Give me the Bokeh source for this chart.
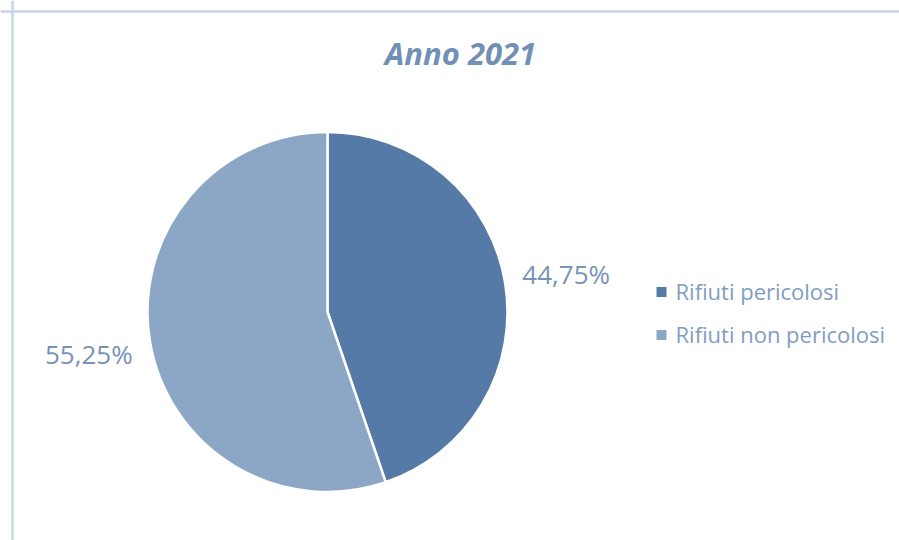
import numpy as np
from bokeh.plotting import figure
from bokeh.models import ColumnDataSource, Range1d, Span
from bokeh.core.properties import value
from bokeh.embed import file_html
from bokeh.resources import INLINE

# ---- data ----
title = "Anno 2021"
categories = ["Rifiuti pericolosi", "Rifiuti non pericolosi"]
shares = [44.75, 55.25]
labels = ["44,75%", "55,25%"]
colors = ["#557AA7", "#8CA7C6"]

W, H = 899, 540
p = figure(width=W, height=H, output_backend="svg", toolbar_location=None,
           x_range=Range1d(0, W), y_range=Range1d(0, H), min_border=0,
           outline_line_color=None, background_fill_color="white",
           border_fill_color="white")
p.axis.visible = False
p.grid.visible = False

# chart area border (left and top only visible)
p.add_layout(Span(location=12, dimension="height", line_color="#C9D6E6", line_width=2.5))
p.add_layout(Span(location=529, dimension="width", line_color="#C9D6E6", line_width=2.5))

cx, cy, r = 327, 228.5, 180
frac = np.array(shares) / sum(shares)
ends = np.cumsum(frac) * 2 * np.pi
starts = ends - frac * 2 * np.pi
start_ang = np.pi / 2 - starts
end_ang = np.pi / 2 - ends
mid = (start_ang + end_ang) / 2

lab_r = 242
src = ColumnDataSource(dict(start=start_ang, end=end_ang, color=colors,
                            cat=categories, lab=labels,
                            lx=cx + lab_r * np.cos(mid),
                            ly=cy + lab_r * np.sin(mid) - 9.3 + 7.5))
p.wedge(x=cx, y=cy, radius=r, start_angle="start", end_angle="end",
        direction="clock", fill_color="color", line_color="white",
        line_width=2.5, source=src)

p.text(x="lx", y="ly", text="lab", source=src, text_font=value("Open Sans"),
       text_font_size="26px", text_color="#7893B8", text_align="center",
       text_baseline="alphabetic")

# title
p.text(x=[460], y=[478.3 + 9.5], text=[title], text_font=value("Open Sans"),
       text_font_size="31px", text_font_style="bold italic",
       text_color="#7290B6", text_align="center", text_baseline="alphabetic")

# legend
leg_base = [243 - 43 * i for i in range(len(categories))]
leg = ColumnDataSource(dict(yb=[b + 7 for b in leg_base], ys=[b + 5.5 for b in leg_base],
                            cat=categories, color=colors))
p.rect(x=661, y="ys", width=10, height=10, fill_color="color", line_color=None, source=leg)
p.text(x=675, y="yb", text="cat", source=leg, text_font=value("Open Sans"),
       text_font_size="22px", text_color="#819DC1", text_align="left",
       text_baseline="alphabetic")

open("out.html", "w").write(file_html(p, INLINE))
